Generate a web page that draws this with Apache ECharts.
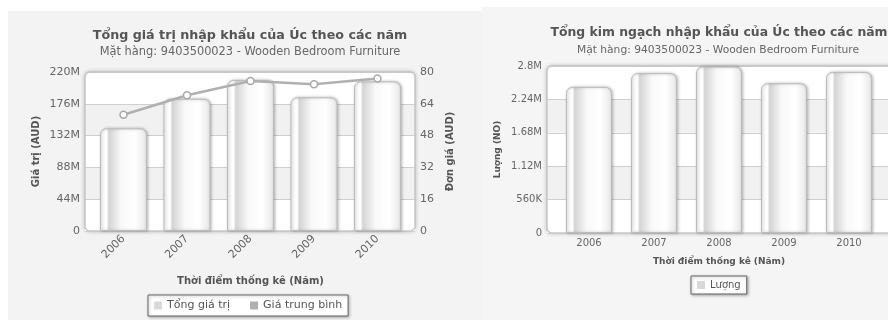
<!DOCTYPE html>
<html>
<head>
<meta charset="utf-8">
<script src="https://cdn.jsdelivr.net/npm/echarts@6/dist/echarts.min.js"></script>
<style>
  html, body { margin: 0; padding: 0; background: #ffffff; }
  #chart { width: 888px; height: 320px; }
</style>
</head>
<body>
<div id="chart"></div>
<script>
// Import statistics for item 9403500023 (Wooden Bedroom Furniture), Australia
const years = ['2006', '2007', '2008', '2009', '2010'];
const totalValue = [142e6, 183e6, 209e6, 185e6, 207e6];   // AUD
const avgPrice = [58.5, 68.3, 75.5, 73.8, 76.7];          // AUD per unit
const quantity = [2.45e6, 2.68e6, 2.79e6, 2.51e6, 2.70e6]; // units

// Axis ranges
const valueRange = { min: 0, max: 220e6, interval: 44e6 };
const priceRange = { min: 0, max: 80, interval: 16 };
const qtyRange = { min: 0, max: 2.8e6, interval: 560e3 };

const FONT = 'DejaVu Sans';

function shortNum(v) {
  if (v === 0) return '0';
  if (v >= 1e6) return +(v / 1e6).toFixed(2) + 'M';
  if (v >= 1e3) return +(v / 1e3).toFixed(0) + 'K';
  return String(v);
}

// left panel text runs slightly larger than the right one
const tickLabelL = { color: '#666', fontSize: 11, fontFamily: FONT };
const tickLabelR = { color: '#666', fontSize: 10, fontFamily: FONT };
const axisNameStyle = { color: '#555', fontSize: 10, fontWeight: 'bold', fontFamily: FONT };

const barStyle = {
  color: {
    type: 'linear', x: 0, y: 0, x2: 1, y2: 0,
    colorStops: [
      { offset: 0, color: '#f7f7f7' },
      { offset: 0.14, color: '#ffffff' },
      { offset: 0.19, color: '#d4d4d4' },
      { offset: 0.45, color: '#f9f9f9' },
      { offset: 0.75, color: '#ffffff' },
      { offset: 0.94, color: '#ededed' },
      { offset: 1, color: '#dedede' }
    ]
  },
  borderColor: '#bcbcbc',
  borderWidth: 1,
  borderRadius: [6, 6, 0, 0],
  shadowBlur: 3,
  shadowOffsetX: 1,
  shadowColor: 'rgba(0,0,0,0.25)'
};

const valueAxisBase = {
  type: 'value',
  axisLine: { show: false },
  axisTick: { show: false }
};

const chart = echarts.init(document.getElementById('chart'), null, { renderer: 'canvas' });

chart.setOption({
  animation: false,
  backgroundColor: '#ffffff',
  textStyle: { fontFamily: FONT },
  graphic: [
    // panel backgrounds
    { type: 'rect', z: -20, shape: { x: 8, y: 11, width: 474, height: 309 }, style: { fill: '#f3f3f3' } },
    { type: 'rect', z: -20, shape: { x: 482, y: 7, width: 406, height: 313 }, style: { fill: '#f5f5f5' } },
    // plot frames
    { type: 'rect', z: -10, shape: { x: 85, y: 72, width: 330, height: 159, r: 5 },
      style: { fill: '#ffffff', stroke: '#c8c8c8', lineWidth: 1.5, shadowBlur: 4, shadowColor: 'rgba(0,0,0,0.18)' } },
    { type: 'rect', z: 1, shape: { x: 85, y: 72, width: 330, height: 159, r: 5 },
      style: { fill: null, stroke: '#c8c8c8', lineWidth: 1.5 } },
    { type: 'rect', z: -10, shape: { x: 547, y: 66, width: 360, height: 167, r: 5 },
      style: { fill: '#ffffff', stroke: '#c8c8c8', lineWidth: 1.5, shadowBlur: 4, shadowColor: 'rgba(0,0,0,0.18)' } },
    { type: 'rect', z: 1, shape: { x: 547, y: 66, width: 360, height: 167, r: 5 },
      style: { fill: null, stroke: '#c8c8c8', lineWidth: 1.5 } }
  ],
  title: [
    { text: 'Tổng giá trị nhập khẩu của Úc theo các năm', left: 250, top: 29, padding: 0, textAlign: 'center',
      textStyle: { color: '#555', fontSize: 12.7, fontWeight: 'bold', fontFamily: FONT } },
    { text: 'Mặt hàng: 9403500023 - Wooden Bedroom Furniture', left: 250, top: 47, padding: 0, textAlign: 'center',
      textStyle: { color: '#666', fontSize: 11.4, fontWeight: 'normal', fontFamily: FONT } },
    { text: 'Tổng kim ngạch nhập khẩu của Úc theo các năm', left: 719, top: 27, padding: 0, textAlign: 'center',
      textStyle: { color: '#555', fontSize: 12.4, fontWeight: 'bold', fontFamily: FONT } },
    { text: 'Mặt hàng: 9403500023 - Wooden Bedroom Furniture', left: 718, top: 45, padding: 0, textAlign: 'center',
      textStyle: { color: '#666', fontSize: 10.7, fontWeight: 'normal', fontFamily: FONT } }
  ],
  legend: [
    {
      left: 148, top: 295, padding: [5, 6], itemGap: 20, itemWidth: 8, itemHeight: 8, icon: 'rect',
      backgroundColor: '#ffffff', borderColor: '#666', borderWidth: 1,
      shadowBlur: 3, shadowOffsetX: 1, shadowOffsetY: 1, shadowColor: 'rgba(0,0,0,0.3)',
      textStyle: { color: '#555', fontSize: 11, fontFamily: FONT },
      data: [
        { name: 'Tổng giá trị', itemStyle: { color: '#d9d9d9', borderWidth: 0 } },
        { name: 'Giá trung bình', itemStyle: { color: '#b0b0b0', borderWidth: 0 } }
      ]
    },
    {
      left: 691, top: 276, padding: [4, 6], itemWidth: 8, itemHeight: 8, icon: 'rect',
      backgroundColor: '#ffffff', borderColor: '#666', borderWidth: 1,
      shadowBlur: 3, shadowOffsetX: 1, shadowOffsetY: 1, shadowColor: 'rgba(0,0,0,0.3)',
      textStyle: { color: '#555', fontSize: 10, fontFamily: FONT },
      data: [{ name: 'Lượng', itemStyle: { color: '#d9d9d9', borderWidth: 0 } }]
    }
  ],
  grid: [
    { left: 85, top: 72, width: 330, height: 159 },        // left frame (gridlines, bands)
    { left: 91.75, top: 72, width: 317.5, height: 159 },   // left marks
    { left: 547, top: 66, width: 360, height: 167 },       // right frame
    { left: 556.5, top: 66, width: 325, height: 167 }      // right marks
  ],
  xAxis: [
    { gridIndex: 0, type: 'category', data: years, show: false },
    {
      gridIndex: 1, type: 'category', data: years,
      axisLine: { show: false }, axisTick: { show: false },
      axisLabel: Object.assign({ rotate: 45, margin: 6 }, tickLabelL),
      name: 'Thời điểm thống kê (Năm)', nameLocation: 'middle', nameGap: 45,
      nameTextStyle: axisNameStyle
    },
    { gridIndex: 2, type: 'category', data: years, show: false },
    {
      gridIndex: 3, type: 'category', data: years,
      axisLine: { show: false }, axisTick: { show: false },
      axisLabel: Object.assign({ margin: 5 }, tickLabelR),
      name: 'Thời điểm thống kê (Năm)', nameLocation: 'middle', nameGap: 24,
      nameTextStyle: Object.assign({}, axisNameStyle, { fontSize: 9 })
    }
  ],
  yAxis: [
    Object.assign({}, valueAxisBase, valueRange, {
      gridIndex: 0, position: 'left',
      axisLabel: Object.assign({ formatter: shortNum, margin: 5 }, tickLabelL),
      splitLine: { lineStyle: { color: '#cfcfcf' } },
      splitArea: { show: true, areaStyle: { color: ['#ffffff', '#f1f1f1'] } },
      name: 'Giá trị (AUD)', nameLocation: 'middle', nameRotate: 90, nameGap: 44,
      nameTextStyle: axisNameStyle
    }),
    Object.assign({}, valueAxisBase, priceRange, {
      gridIndex: 0, position: 'right',
      axisLabel: Object.assign({ margin: 5 }, tickLabelL),
      splitLine: { show: false },
      name: 'Đơn giá (AUD)', nameLocation: 'middle', nameRotate: 90, nameGap: 30,
      nameTextStyle: axisNameStyle
    }),
    Object.assign({}, valueAxisBase, valueRange, { gridIndex: 1, show: false }),
    Object.assign({}, valueAxisBase, priceRange, { gridIndex: 1, show: false }),
    Object.assign({}, valueAxisBase, qtyRange, {
      gridIndex: 2, position: 'left',
      axisLabel: Object.assign({ formatter: shortNum, margin: 5 }, tickLabelR),
      splitLine: { lineStyle: { color: '#cfcfcf' } },
      splitArea: { show: true, areaStyle: { color: ['#ffffff', '#f1f1f1'] } },
      name: 'Lượng (NO)', nameLocation: 'middle', nameRotate: 90, nameGap: 45,
      nameTextStyle: Object.assign({}, axisNameStyle, { fontSize: 9 })
    }),
    Object.assign({}, valueAxisBase, qtyRange, { gridIndex: 3, show: false })
  ],
  series: [
    {
      name: 'Tổng giá trị', type: 'bar', xAxisIndex: 1, yAxisIndex: 2,
      data: totalValue, barWidth: 47, itemStyle: barStyle, z: 2
    },
    {
      name: 'Giá trung bình', type: 'line', xAxisIndex: 1, yAxisIndex: 3,
      data: avgPrice, z: 5,
      symbol: 'circle', symbolSize: 7,
      lineStyle: { color: '#b0b0b0', width: 2.5 },
      itemStyle: { color: '#ffffff', borderColor: '#a8a8a8', borderWidth: 1.5 }
    },
    {
      name: 'Lượng', type: 'bar', xAxisIndex: 3, yAxisIndex: 5,
      data: quantity, barWidth: 46, itemStyle: barStyle, z: 2
    }
  ]
});
</script>
</body>
</html>
